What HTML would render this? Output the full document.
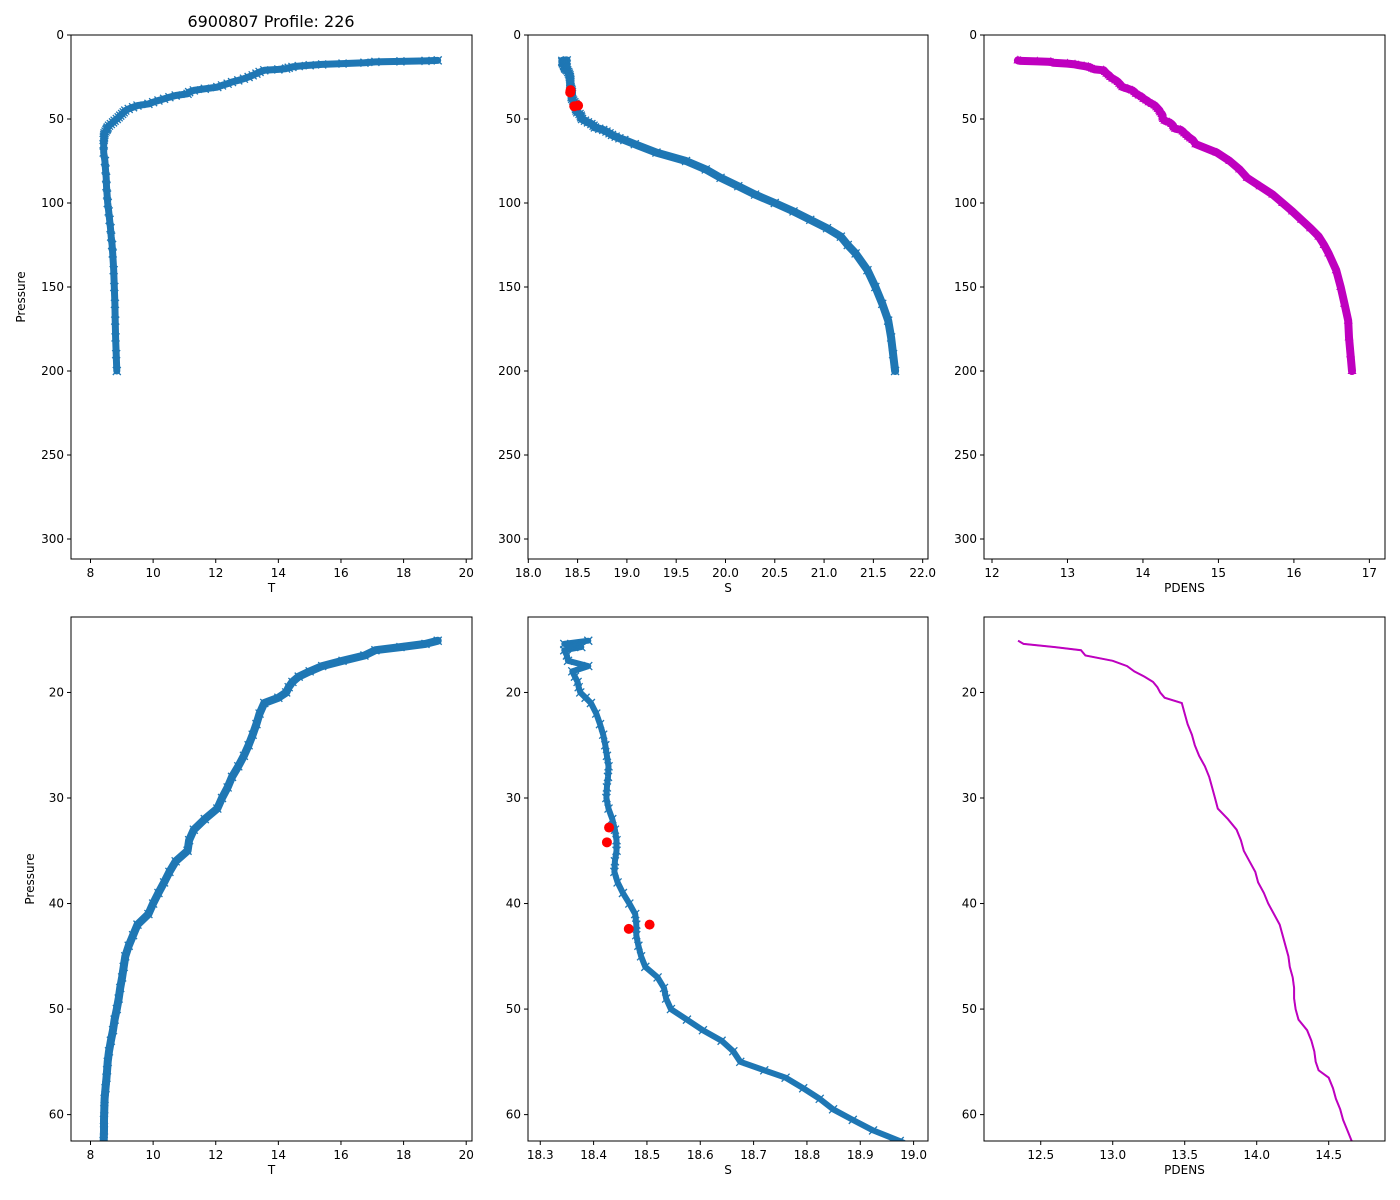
<!DOCTYPE html>
<html><head><meta charset="utf-8"><style>
body{margin:0;background:#fff;}
svg{display:block;font-family:"DejaVu Sans","Liberation Sans",sans-serif;}
</style></head><body>
<svg id="fig" width="1400" height="1200" viewBox="0 0 1400 1200"></svg>
<script>
const pressure=[15.1,15.4,15.7,16,16.5,17,17.5,18,18.5,19,19.5,20,20.5,21,22,23,24,25,26,27,28,29,30,31,32,33,34,35,36,37,38,39,40,41,42,43,44,45,46,47,48,49,50,51,52,53,54,55,55.8,56.5,57.5,58.5,59.5,60.5,61.5,62.5,65,70,75,80,85,90,95,100,105,110,115,120,125,130,140,150,160,170,180,190,200];
const tempValues=[19.09,18.7,17.9,17.1,16.75,16.05,15.4,15.0,14.65,14.45,14.33,14.25,14.0,13.55,13.4,13.3,13.18,13.05,12.9,12.72,12.52,12.38,12.2,12.05,11.65,11.3,11.15,11.1,10.72,10.52,10.35,10.17,10.0,9.85,9.5,9.36,9.22,9.11,9.06,9.01,8.95,8.9,8.84,8.77,8.72,8.65,8.59,8.55,8.53,8.51,8.48,8.45,8.44,8.43,8.43,8.42,8.42,8.42,8.46,8.48,8.5,8.51,8.53,8.55,8.58,8.61,8.64,8.66,8.69,8.71,8.74,8.76,8.78,8.79,8.8,8.82,8.84];
const salValues=[18.39,18.345,18.377,18.345,18.35,18.352,18.39,18.36,18.365,18.37,18.372,18.375,18.385,18.395,18.405,18.412,18.418,18.422,18.425,18.428,18.427,18.425,18.424,18.428,18.435,18.44,18.443,18.443,18.44,18.439,18.445,18.455,18.467,18.478,18.48,18.48,18.484,18.489,18.497,18.52,18.532,18.536,18.545,18.575,18.605,18.64,18.662,18.675,18.72,18.76,18.793,18.824,18.849,18.886,18.924,18.974,19.08,19.3,19.6,19.8,19.95,20.13,20.3,20.5,20.69,20.86,21.03,21.17,21.24,21.32,21.44,21.52,21.59,21.65,21.68,21.7,21.72];
const densValues=[12.343,12.38,12.6,12.78,12.81,13.0,13.1,13.15,13.22,13.28,13.31,13.33,13.36,13.48,13.5,13.52,13.55,13.57,13.6,13.64,13.67,13.69,13.71,13.73,13.8,13.86,13.89,13.91,13.95,13.99,14.01,14.05,14.08,14.12,14.16,14.18,14.2,14.22,14.23,14.25,14.26,14.26,14.27,14.29,14.35,14.38,14.4,14.41,14.43,14.5,14.53,14.55,14.58,14.6,14.63,14.66,14.7,14.98,15.15,15.28,15.38,15.55,15.72,15.85,15.98,16.1,16.22,16.33,16.4,16.46,16.56,16.62,16.67,16.72,16.73,16.75,16.77];
const flagPressure=[32.8,34.2,42.4,42.0];
const flagSal=[18.429,18.425,18.466,18.505];
const tempTicks=[8,10,12,14,16,18,20];
const salTicksTop=[18.0,18.5,19.0,19.5,20.0,20.5,21.0,21.5,22.0];
const salTicksBottom=[18.3,18.4,18.5,18.6,18.7,18.8,18.9,19.0];
const densTicksTop=[12,13,14,15,16,17];
const densTicksBottom=[12.5,13.0,13.5,14.0,14.5];
const presTicksTop=[0,50,100,150,200,250,300];
const presTicksBottom=[20,30,40,50,60];

const NS="http://www.w3.org/2000/svg";
const svg=document.getElementById('fig');
function mk(tag,attrs,parent){const e=document.createElementNS(NS,tag);for(const k in attrs)e.setAttribute(k,attrs[k]);(parent||svg).appendChild(e);return e;}

function panel(cfg){
  const g=mk('g',{});
  
  
  const {x0,x1,y0,y1,xmin,xmax,ymin,ymax}=cfg;
  const sx=v=>x0+(v-xmin)/(xmax-xmin)*(x1-x0);
  const sy=v=>y0+(v-ymin)/(ymax-ymin)*(y1-y0);
  const clip='c'+cfg.name;
  const cp=mk('clipPath',{id:clip},g);mk('rect',{x:x0,y:y0,width:x1-x0,height:y1-y0},cp);
  const dg=mk('g',{'clip-path':'url(#'+clip+')'},g);
  const pts=[];
  for(let i=0;i<pressure.length;i++){const v=cfg.vals[i];if(pressure[i]<ymin-2||pressure[i]>ymax+3)continue;pts.push([sx(v),sy(pressure[i])]);}
  const d=pts.map(p=>p[0].toFixed(1)+','+p[1].toFixed(1)).join(' ');
  if(cfg.band){const b=mk('polyline',{points:d,fill:'none',stroke:cfg.color,'stroke-width':cfg.band,'stroke-linejoin':'round','stroke-linecap':'round'},dg);
    
    }
  const ln=mk('polyline',{points:d,fill:'none',stroke:cfg.lineColor||cfg.color,'stroke-width':cfg.lw||1.5},dg);
  
  
  if(cfg.over){const o=mk('polyline',{points:d,fill:'none',stroke:cfg.over,'stroke-width':2},dg);
    
    }
  if(cfg.marker){pts.forEach(p=>{
    let m;
    if(cfg.marker==='x'){m=mk('path',{d:`M${p[0]-4},${p[1]-4}L${p[0]+4},${p[1]+4}M${p[0]-4},${p[1]+4}L${p[0]+4},${p[1]-4}`,stroke:cfg.color,'stroke-width':1.3,fill:'none'},dg);}
    else {m=mk('path',{d:`M${p[0]},${p[1]-5}L${p[0]+4.5},${p[1]+3}L${p[0]-4.5},${p[1]+3}Z`,fill:cfg.color},dg);}
    
    
  });}
  if(cfg.flags){for(let i=0;i<flagPressure.length;i++){const c=mk('circle',{cx:sx(flagSal[i]),cy:sy(flagPressure[i]),r:5,fill:'#ff0000'},dg);
    
    }}
  const fr=mk('rect',{x:x0,y:y0,width:x1-x0,height:y1-y0,fill:'none',stroke:'#000','stroke-width':1},g);
  
  
  cfg.xt.forEach(t=>{const X=sx(t);mk('line',{x1:X,x2:X,y1:y1,y2:y1+4,stroke:'#000'},g);
    const tx=mk('text',{x:X,y:y1+18,'text-anchor':'middle','font-size':12,fill:'#000'},g);tx.textContent=cfg.xfmt(t);
    
    });
  cfg.yt.forEach(t=>{const Y=sy(t);mk('line',{x1:x0-4,x2:x0,y1:Y,y2:Y,stroke:'#000'},g);
    const tx=mk('text',{x:x0-7,y:Y+4,'text-anchor':'end','font-size':12,fill:'#000'},g);tx.textContent=String(t);
    
    });
  const xl=mk('text',{x:(x0+x1)/2,y:y1+33,'text-anchor':'middle','font-size':12,fill:'#000'},g);xl.textContent=cfg.xlabel;
  
  
  if(cfg.ylabelX){const yl=mk('text',{x:cfg.ylabelX,y:(y0+y1)/2,'text-anchor':'middle','font-size':12,fill:'#000',transform:`rotate(-90 ${cfg.ylabelX} ${(y0+y1)/2})`},g);yl.textContent='Pressure';
    
    }
}
const blue='#1f77b4',mag='#bf00bf';
const f0=v=>String(v), f1=v=>v.toFixed(1);
const topRow={y0:35,y1:559,ymin:0,ymax:311.9}, botRow={y0:617,y1:1141,ymin:12.85,ymax:62.5};
panel(Object.assign({name:'temp-top-panel',series:'temp',x0:71,x1:472,xmin:7.377,xmax:20.185,vals:tempValues,color:blue,band:7,marker:'x',xt:tempTicks,xfmt:f0,yt:presTicksTop,xlabel:'T',ylabelX:25},topRow));
panel(Object.assign({name:'sal-top-panel',series:'sal',x0:528,x1:928,xmin:17.997,xmax:22.054,vals:salValues,color:blue,band:8,marker:'x',flags:true,xt:salTicksTop,xfmt:f1,yt:presTicksTop,xlabel:'S'},topRow));
panel(Object.assign({name:'dens-top-panel',series:'dens',x0:984,x1:1385,xmin:11.894,xmax:17.207,vals:densValues,color:mag,band:8,marker:'tri',xt:densTicksTop,xfmt:f0,yt:presTicksTop,xlabel:'PDENS'},topRow));
panel(Object.assign({name:'temp-bottom-panel',series:'temp',x0:71,x1:472,xmin:7.377,xmax:20.185,vals:tempValues,color:blue,band:8,marker:'x',xt:tempTicks,xfmt:f0,yt:presTicksBottom,xlabel:'T',ylabelX:34},botRow));
panel(Object.assign({name:'sal-bottom-panel',series:'sal',x0:528,x1:928,xmin:18.277,xmax:19.027,vals:salValues,color:blue,band:6,marker:'x',flags:true,xt:salTicksBottom,xfmt:f1,yt:presTicksBottom,xlabel:'S'},botRow));
panel(Object.assign({name:'dens-bottom-panel',series:'dens',x0:984,x1:1385,xmin:12.106,xmax:14.891,vals:densValues,color:blue,lw:1.5,over:mag,xt:densTicksBottom,xfmt:f1,yt:presTicksBottom,xlabel:'PDENS'},botRow));
const t=mk('text',{x:271,y:27,'text-anchor':'middle','font-size':16,fill:'#000'});
t.textContent='6900807 Profile: 226';


</script>
</body></html>
